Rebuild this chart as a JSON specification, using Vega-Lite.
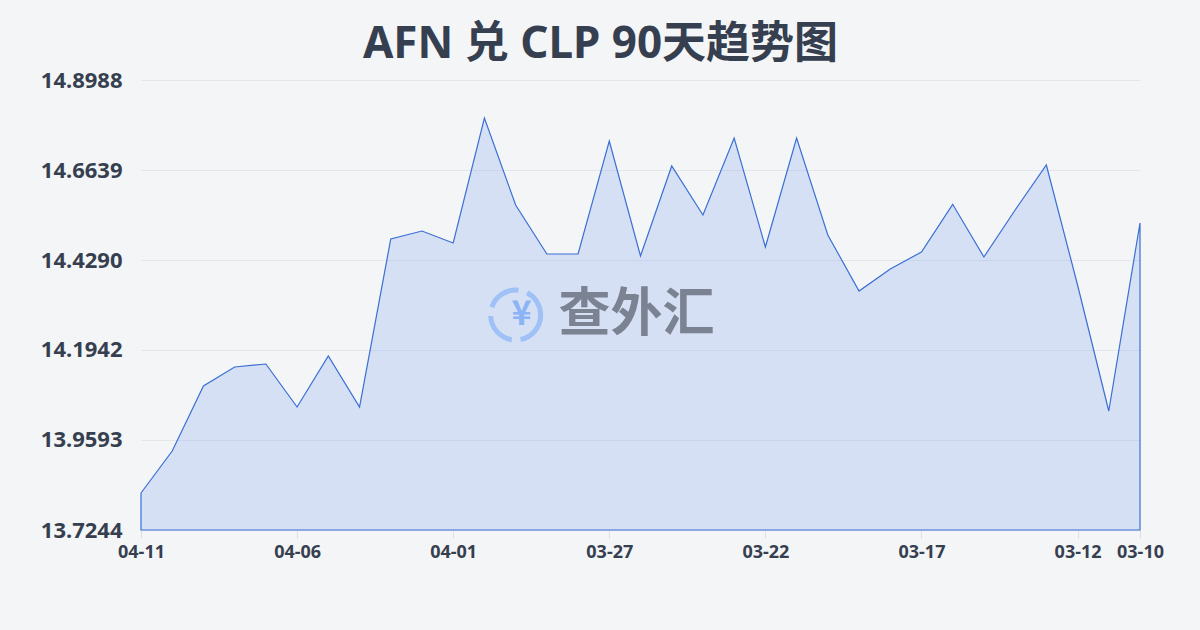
{
  "$schema": "https://vega.github.io/schema/vega-lite/v6.json",
  "width": 999,
  "height": 450,
  "autosize": {"type": "none"},
  "padding": {"left": 141, "top": 80, "right": 60, "bottom": 100},
  "background": "#f4f5f7",
  "title": {
    "text": "AFN 兑 CLP 90天趋势图",
    "font": "Noto Sans, Noto Sans CJK SC",
    "fontSize": 44,
    "fontWeight": "bold",
    "color": "#363f4f",
    "anchor": "middle",
    "dx": -40,
    "offset": 2
  },
  "config": {
    "view": {"stroke": null},
    "axis": {"labelFont": "Noto Sans", "labelFontWeight": "bold", "labelColor": "#363f4f"}
  },
  "layer": [
    {
      "data": {
        "values": [
          {"date": "2025-04-11", "rate": 13.8210},
          {"date": "2025-04-10", "rate": 13.9306},
          {"date": "2025-04-09", "rate": 14.1002},
          {"date": "2025-04-08", "rate": 14.1498},
          {"date": "2025-04-07", "rate": 14.1576},
          {"date": "2025-04-06", "rate": 14.0454},
          {"date": "2025-04-05", "rate": 14.1785},
          {"date": "2025-04-04", "rate": 14.0454},
          {"date": "2025-04-03", "rate": 14.4839},
          {"date": "2025-04-02", "rate": 14.5047},
          {"date": "2025-04-01", "rate": 14.4734},
          {"date": "2025-03-31", "rate": 14.7996},
          {"date": "2025-03-30", "rate": 14.5726},
          {"date": "2025-03-29", "rate": 14.4447},
          {"date": "2025-03-28", "rate": 14.4447},
          {"date": "2025-03-27", "rate": 14.7396},
          {"date": "2025-03-26", "rate": 14.4395},
          {"date": "2025-03-25", "rate": 14.6744},
          {"date": "2025-03-24", "rate": 14.5465},
          {"date": "2025-03-23", "rate": 14.7474},
          {"date": "2025-03-22", "rate": 14.4630},
          {"date": "2025-03-21", "rate": 14.7474},
          {"date": "2025-03-20", "rate": 14.4943},
          {"date": "2025-03-19", "rate": 14.3481},
          {"date": "2025-03-18", "rate": 14.4056},
          {"date": "2025-03-17", "rate": 14.4499},
          {"date": "2025-03-16", "rate": 14.5744},
          {"date": "2025-03-15", "rate": 14.4369},
          {"date": "2025-03-14", "rate": 14.5595},
          {"date": "2025-03-13", "rate": 14.6770},
          {"date": "2025-03-12", "rate": 14.3638},
          {"date": "2025-03-11", "rate": 14.0350},
          {"date": "2025-03-10", "rate": 14.5256}
        ]
      },
      "mark": {
        "type": "area",
        "fill": "#5b8def",
        "fillOpacity": 0.2,
        "stroke": "#3a6fd3",
        "strokeWidth": 1.2
      },
      "encoding": {
        "x": {
          "field": "date",
          "type": "temporal",
          "scale": {"type": "utc", "reverse": true, "nice": false},
          "axis": {
            "title": null,
            "format": "%m-%d",
            "values": [
              {"year": 2025, "month": 4, "date": 11, "utc": true},
              {"year": 2025, "month": 4, "date": 6, "utc": true},
              {"year": 2025, "month": 4, "date": 1, "utc": true},
              {"year": 2025, "month": 3, "date": 27, "utc": true},
              {"year": 2025, "month": 3, "date": 22, "utc": true},
              {"year": 2025, "month": 3, "date": 17, "utc": true},
              {"year": 2025, "month": 3, "date": 12, "utc": true},
              {"year": 2025, "month": 3, "date": 10, "utc": true}
            ],
            "domain": false,
            "grid": false,
            "ticks": true,
            "tickColor": "#dcdfe4",
            "tickSize": 8,
            "labelFontSize": 18,
            "labelPadding": 5,
            "labelFlush": false,
            "labelOverlap": false
          }
        },
        "y": {
          "field": "rate",
          "type": "quantitative",
          "scale": {"domain": [13.7244, 14.8988], "zero": false, "nice": false},
          "axis": {
            "title": null,
            "values": [13.7244, 13.9593, 14.1942, 14.429, 14.6639, 14.8988],
            "format": ".4f",
            "domain": false,
            "ticks": false,
            "grid": true,
            "gridColor": "#e3e6ea",
            "gridWidth": 1,
            "labelFontSize": 22,
            "labelPadding": 19
          }
        },
        "y2": {"datum": 13.7244}
      }
    },
    {
      "data": {"values": [{"label": "查外汇"}]},
      "mark": {
        "type": "text",
        "font": "Noto Sans CJK SC",
        "fontWeight": "bold",
        "fontSize": 52,
        "color": "#7b8291",
        "align": "center",
        "baseline": "middle",
        "dx": -4
      },
      "encoding": {
        "x": {"datum": {"year": 2025, "month": 3, "date": 26, "utc": true}, "type": "temporal"},
        "y": {"datum": 14.2855, "type": "quantitative"},
        "text": {"field": "label"}
      }
    },
    {
      "data": {"values": [{"icon": "¥"}]},
      "mark": {
        "type": "point",
        "shape": "circle",
        "filled": false,
        "size": 2500,
        "stroke": "#8ab4f5",
        "strokeWidth": 5,
        "strokeDash": [34, 9],
        "dx": 6
      },
      "encoding": {
        "x": {"datum": {"year": 2025, "month": 3, "date": 30, "utc": true}, "type": "temporal"},
        "y": {"datum": 14.2855, "type": "quantitative"}
      }
    },
    {
      "data": {"values": [{"icon": "¥"}]},
      "mark": {
        "type": "text",
        "font": "Noto Sans CJK SC",
        "fontWeight": "bold",
        "fontSize": 34,
        "color": "#8ab4f5",
        "align": "center",
        "baseline": "middle",
        "dx": 6
      },
      "encoding": {
        "x": {"datum": {"year": 2025, "month": 3, "date": 30, "utc": true}, "type": "temporal"},
        "y": {"datum": 14.2855, "type": "quantitative"},
        "text": {"field": "icon"}
      }
    }
  ]
}
